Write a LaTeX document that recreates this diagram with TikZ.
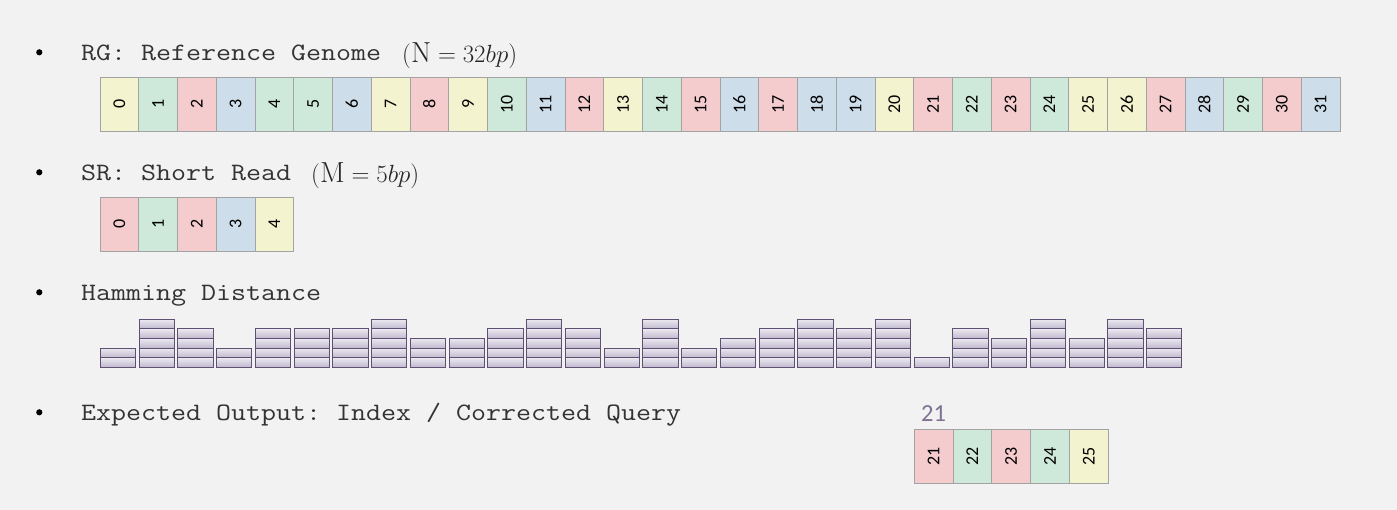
\documentclass[tikz,border=0pt]{standalone}
\usepackage{fontspec}
\setmonofont[FakeStretch=1.165]{Latin Modern Mono}
\newfontfamily\carlito{Carlito}
\definecolor{bgc}{HTML}{F2F2F2}
\definecolor{cY}{HTML}{F3F3D0}
\definecolor{cG}{HTML}{CEE8DA}
\definecolor{cP}{HTML}{F4CCCE}
\definecolor{cB}{HTML}{CDDDEA}
\definecolor{cellborder}{HTML}{A3A3A3}
\definecolor{txt}{HTML}{333333}
\definecolor{barborder}{HTML}{5E5174}
\definecolor{bartop}{HTML}{EBE8F0}
\definecolor{barbot}{HTML}{C0B9CD}
\definecolor{idxc}{HTML}{7E7192}
\begin{document}
\begin{tikzpicture}[x=1pt,y=-1pt,
  cell/.style={draw=cellborder, line width=0.9pt, minimum width=38.75pt, minimum height=54pt,
    inner sep=0pt, outer sep=0pt, anchor=north west, text=black,
    font=\carlito\fontsize{18}{18}\selectfont},
  label/.style={anchor=base west, inner sep=0pt, text=txt, font=\ttfamily\fontsize{25}{25}\selectfont},
  mathlabel/.style={anchor=base west, inner sep=0pt, text=black!85, font=\fontsize{29}{29}\selectfont},
  barseg/.style={draw=barborder, line width=1pt, top color=bartop, bottom color=barbot}
]
\useasboundingbox (0,0) rectangle (1397,510);
\fill[bgc] (0,0) rectangle (1397,510);

% bullets and labels
\foreach \r in {0,1,2,3} {
  \fill[black] (39.3, 52.3+\r*120) circle[radius=3.1pt];
}
\node[label] (rglabel) at (81,60.7) {RG: Reference Genome};
\node[mathlabel] (rgmath) at (402,62.3) {$(\mathrm{N} = 32bp)$};
\node[label] (srlabel) at (81,180.7) {SR: Short Read};
\node[mathlabel] (srmath) at (311,182.3) {$(\mathrm{M} = 5bp)$};
\node[label] (hdlabel) at (81,300.7) {Hamming Distance};
\node[label] (eolabel) at (81,420.7) {Expected Output: Index / Corrected Query};

% reference genome
\foreach \c [count=\n from 0] in {cY,cG,cP,cB,cG,cG,cB,cY,cP,cY,cG,cB,cP,cY,cG,cP,cB,cP,cB,cB,cY,cP,cG,cP,cG,cY,cY,cP,cB,cG,cP,cB} {
  \node[cell, fill=\c] (rg\n) at (100+\n*38.75, 77.4) {\rotatebox{90}{\n}};
}

% short read
\foreach \c [count=\n from 0] in {cP,cG,cP,cB,cY} {
  \node[cell, fill=\c] (sr\n) at (100+\n*38.75, 197.3) {\rotatebox{90}{\n}};
}

% hamming distance bars
\foreach \h [count=\n from 0] in {2,5,4,2,4,4,4,5,3,3,4,5,4,2,5,2,3,4,5,4,5,1,4,3,5,3,5,4} {
  \foreach \j in {1,...,\h} {
    \path[barseg] (100.3+\n*38.75, 367.3-\j*9.6) rectangle (135.7+\n*38.75, 367.3-\j*9.6+9.6);
  }
}

% expected output
\node[anchor=base west, inner sep=0pt, text=idxc, font=\carlito\fontsize{24.5}{24.5}\selectfont] (idx) at (921,421.7) {21};
\foreach \c/\v [count=\n from 0] in {cP/21,cG/22,cP/23,cG/24,cY/25} {
  \node[cell, fill=\c] (out\n) at (914.2+\n*38.8, 429.3) {\rotatebox{90}{\v}};
}
\end{tikzpicture}
\end{document}
